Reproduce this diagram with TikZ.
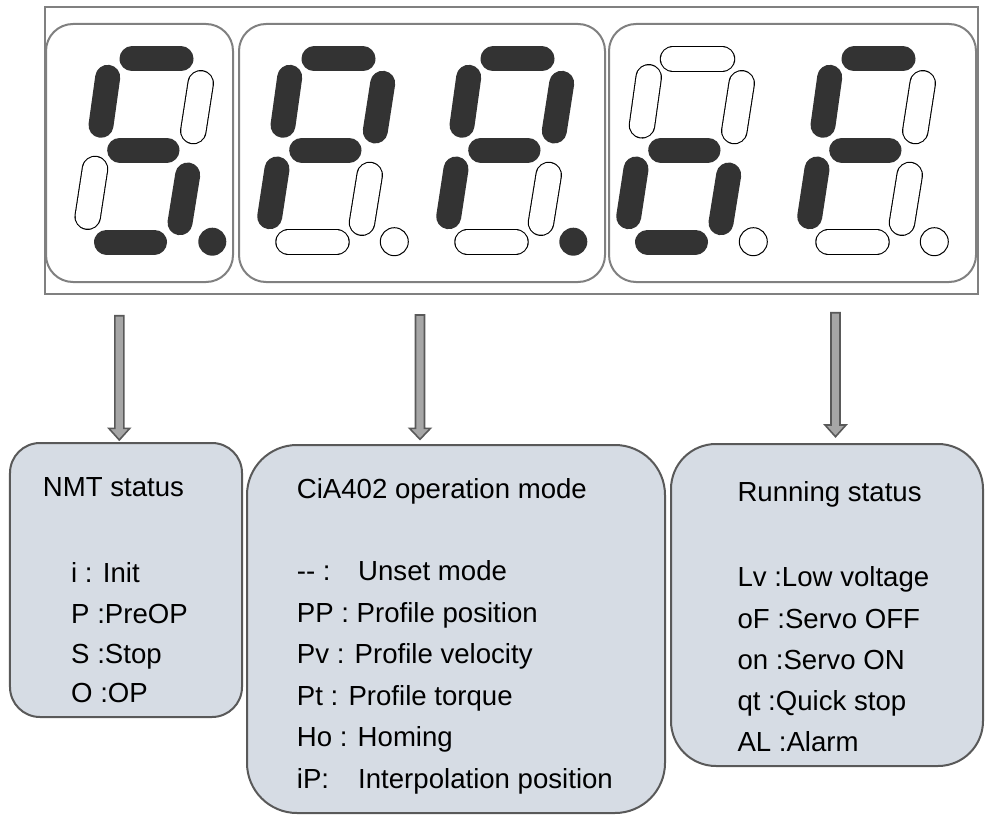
\documentclass[tikz,border=0pt]{standalone}
\usepackage{fontspec}
\setmainfont{Liberation Sans}
\usetikzlibrary{calc}
\definecolor{segdark}{HTML}{333333}
\definecolor{frameg}{HTML}{808080}
\definecolor{panelfill}{HTML}{D6DCE4}
\definecolor{paneldraw}{HTML}{595959}
\definecolor{arrowfill}{HTML}{A6A6A6}
\definecolor{arrowdraw}{HTML}{595959}
\tikzset{
  segon/.style={draw=segdark, line width=25bp, line cap=round},
  segoff/.style={draw=black, line width=26.5bp, line cap=round,
                 postaction={draw=white, line width=24.3bp, line cap=round}},
  doton/.style={fill=segdark},
  dotoff/.style={draw=black, line width=1bp, fill=white},
  digitbox/.style={draw=frameg, line width=2bp, rounded corners=27bp},
  panel/.style={draw=paneldraw, line width=2bp, fill=panelfill},
  blockarr/.style={draw=arrowdraw, fill=arrowfill, line width=1.6bp, line join=miter},
  txt/.style={anchor=base west, inner sep=0pt, font=\fontsize{27.6bp}{33bp}\selectfont},
}
\newcommand{\sevenseg}[9]{%
  \begin{scope}[shift={(#1,0)}]
    \draw[#2] (132,59)--(181,59);           % a
    \draw[#3] (200.7,83.3)--(193.3,131);    % b
    \draw[#4] (187.7,175)--(180,222.7);     % c
    \draw[#5] (106.5,242)--(154.5,242);     % d
    \draw[#6] (95,169)--(87.7,216.7);       % e
    \draw[#7] (107.7,77.3)--(101,125.3);    % f
    \draw[#8] (119.7,150)--(167,150);       % g
    \path[#9] (212.3,241.7) circle[radius=14];
  \end{scope}}
\newcommand{\blockarrow}[4]{%
  \draw[blockarr] (#1-4.5,#2) -- (#1+4.5,#2) -- (#1+4.5,#3) -- (#1+10.5,#3)
     -- (#1,#4) -- (#1-10.5,#3) -- (#1-4.5,#3) -- cycle;}
\begin{document}
\begin{tikzpicture}[x=1bp,y=-1bp]
\useasboundingbox (0,0) rectangle (986,815);
% display frame
\node[draw=frameg, line width=1.2bp, minimum width=933bp, minimum height=287bp, inner sep=0pt] (display) at (511.5,150.5) {};
\draw[digitbox] (46,24) rectangle (233,282);
\draw[digitbox] (239,24) rectangle (605,282);
\draw[digitbox] (609,24) rectangle (976,282);
% digits
\sevenseg{0}{segon}{segoff}{segon}{segon}{segoff}{segon}{segon}{doton}
\sevenseg{182}{segon}{segon}{segoff}{segoff}{segon}{segon}{segon}{dotoff}
\sevenseg{361}{segon}{segon}{segoff}{segoff}{segon}{segon}{segon}{doton}
\sevenseg{541}{segoff}{segoff}{segon}{segon}{segon}{segoff}{segon}{dotoff}
\sevenseg{722}{segon}{segoff}{segoff}{segoff}{segon}{segon}{segon}{dotoff}
% arrows
\blockarrow{119.3}{315.7}{428.3}{440}
\blockarrow{420}{315}{428.3}{439.3}
\blockarrow{835.5}{312.7}{425}{436.7}
% panels
\node[panel, rounded corners=30bp, minimum width=232bp, minimum height=274bp, inner sep=0pt] (nmt) at (126,580) {};
\node[panel, rounded corners=50bp, minimum width=418bp, minimum height=368bp, inner sep=0pt] (cia) at (456,629) {};
\node[panel, rounded corners=45bp, minimum width=312bp, minimum height=322bp, inner sep=0pt] (run) at (827,605) {};
% NMT text
\node[txt] (n0) at (42.7,496) {NMT status};
\node[txt] (n1) at (71,582) {i : Init};
\node[txt] (n2) at (71,623) {P :PreOP};
\node[txt] (n3) at (71,663) {S :Stop};
\node[txt] (n4) at (71,702) {O :OP};
% CiA402 text
\node[txt] (c0) at (296.7,498) {CiA402 operation mode};
\node[txt] (c1) at (296.7,580) {-{}- :};
\node[txt] (c1b) at (358,580) {Unset mode};
\node[txt] (c2) at (296.7,622.7) {PP : Profile position};
\node[txt] (c3) at (296.7,663.5) {Pv : Profile velocity};
\node[txt] (c4) at (296.7,705) {Pt : Profile torque};
\node[txt] (c5) at (296.7,746.7) {Ho : Homing};
\node[txt] (c6) at (296.7,788) {iP:};
\node[txt] (c6b) at (358,788) {Interpolation position};
% Running text
\node[txt] (r0) at (737.3,501.7) {Running status};
\node[txt] (r1) at (737.3,586.7) {Lv :Low voltage};
\node[txt] (r2) at (737.3,628) {oF :Servo OFF};
\node[txt] (r3) at (737.3,669.5) {on :Servo ON};
\node[txt] (r4) at (737.3,710.5) {qt :Quick stop};
\node[txt] (r5) at (737.3,751.7) {AL :Alarm};
\end{tikzpicture}
\end{document}
